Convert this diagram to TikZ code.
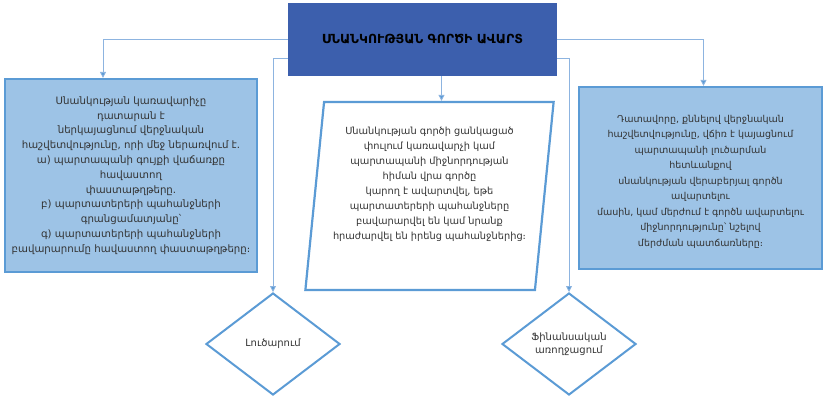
\documentclass[tikz,border=0pt]{standalone}
\usepackage{fontspec}
\setmainfont{DejaVu Sans}
\usetikzlibrary{shapes.geometric,arrows.meta}

\definecolor{headblue}{HTML}{3C5FAD}
\definecolor{boxblue}{HTML}{9DC3E6}
\definecolor{edgeblue}{HTML}{5B9BD5}
\definecolor{linkblue}{HTML}{8DB4E0}
\definecolor{ink}{HTML}{333333}

\begin{document}
\begin{tikzpicture}[x=1pt,y=-1pt,
  box/.style={draw=edgeblue, line width=2.2pt, fill=boxblue, text=ink, align=center, inner sep=4pt},
  choice/.style={diamond, draw=edgeblue, line width=2pt, fill=white, text=ink, align=center,
    minimum width=134pt, minimum height=102pt, inner sep=0pt, font=\fontsize{10}{13}\selectfont},
  link/.style={draw=linkblue, line width=0.8pt, -{Triangle[length=6pt,width=6pt,fill=edgeblue]}}]

\useasboundingbox (0,0) rectangle (826,398);

% Define coordinates
\coordinate (H) at (422.5,39.5);
\coordinate (L) at (131,175.5);
\coordinate (M) at (429.5,196);
\coordinate (R) at (700.5,178);
\coordinate (D1) at (273,344);
\coordinate (D2) at (569,344);

% Title box
\node[fill=headblue, minimum width=269pt, minimum height=73pt, text=black,
  font=\fontsize{12.5}{14}\selectfont\bfseries] (head) at (H) {ՍՆԱՆԿՈՒԹՅԱՆ ԳՈՐԾԻ ԱՎԱՐՏ};

% Side boxes
\node[box, minimum width=252pt, minimum height=193pt, font=\fontsize{10.2}{14.8}\selectfont] (report) at (L)
  {Սնանկության  կառավարիչը\\ դատարան է\\ ներկայացնում վերջնական\\ հաշվետվությունը, որի մեջ ներառվում է.\\
   ա) պարտապանի գույքի վաճառքը\\ հավաստող\\ փաստաթղթերը.\\ բ) պարտատերերի պահանջների\\
   գրանցամատյանը՝\\ գ) պարտատերերի պահանջների\\ բավարարումը հավաստող փաստաթղթերը։};
\node[box, minimum width=243pt, minimum height=182pt, font=\fontsize{9.5}{15.5}\selectfont] (ruling) at (R)
  {\mbox{}\\[-1pt] Դատավորը, քննելով վերջնական\\ հաշվետվությունը, վճիռ է կայացնում\\ պարտապանի լուծարման\\ հետևանքով\\
   սնանկության վերաբերյալ գործն\\ ավարտելու\\ մասին, կամ մերժում է գործն ավարտելու\\
   միջնորդությունը՝ նշելով\\ մերժման պատճառները։};

% Middle box
\node[trapezium, trapezium left angle=83, trapezium right angle=97, trapezium stretches=true,
  draw=edgeblue, line width=2.2pt, fill=white, text=ink, align=center,
  minimum width=249pt, minimum height=188pt, font=\fontsize{9.8}{15}\selectfont] (motion) at (M)
  {Սնանկության գործի ցանկացած\\ փուլում կառավարչի կամ\\ պարտապանի միջնորդության\\ հիման վրա գործը\\
   կարող է ավարտվել, եթե\\ պարտատերերի պահանջները\\ բավարարվել են կամ նրանք\\
   հրաժարվել են իրենց պահանջներից։\\[10pt]};

% Outcomes
\node[choice] (liq) at (D1) {Լուծարում};
\node[choice] (rehab) at (D2) {Ֆինանսական\\ առողջացում};

% Connectors
\draw[link] (head.west) -| ([xshift=-28pt]report.north);
\draw[link] ([yshift=18pt]head.south west) -| (liq.north);
\draw[link] (head.east) -| ([xshift=3pt]ruling.north);
\draw[link] ([yshift=18pt]head.south east) -| (rehab.north);
\draw[link] ([xshift=19pt]head.south) coordinate (tap) -- (tap |- motion.north);

\end{tikzpicture}
\end{document}
